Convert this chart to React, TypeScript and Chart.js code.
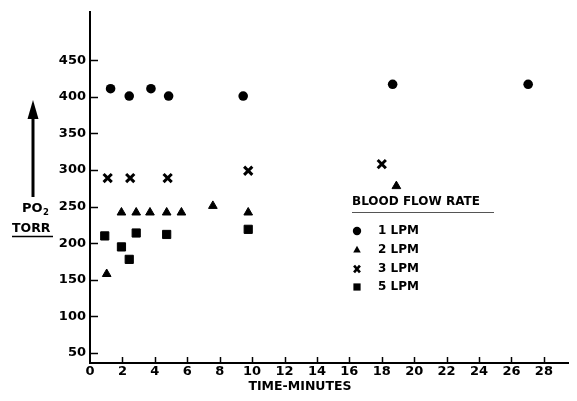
import React, { useEffect, useRef } from "react";
import { Chart, registerables } from "chart.js";

Chart.register(...registerables);

// Data (time in minutes, PO2 in torr)
const timeLpm1 = [1.27, 2.42, 3.76, 4.85, 9.45, 18.67, 27.03];
const po2Lpm1 = [411, 401, 411, 401, 401, 417, 417];
const timeLpm2 = [1.03, 1.94, 2.85, 3.7, 4.73, 5.64, 7.58, 9.76, 18.9];
const po2Lpm2 = [158, 242, 242, 242, 242, 242, 251, 242, 278];
const timeLpm3 = [1.09, 2.48, 4.79, 9.76, 18.0];
const po2Lpm3 = [289, 289, 289, 299, 308];
const timeLpm5 = [0.91, 1.94, 2.42, 2.85, 4.73, 9.76];
const po2Lpm5 = [210, 195, 178, 214, 212, 219];

const yTicks = [50, 100, 150, 200, 250, 300, 350, 400, 450];
const xTicks = [0, 2, 4, 6, 8, 10, 12, 14, 16, 18, 20, 22, 24, 26, 28];
const legendTitle = "BLOOD FLOW RATE";
const legendLabels = ["1 LPM", "2 LPM", "3 LPM", "5 LPM"];
const xTitle = "TIME-MINUTES";
const yTitleMain = "PO";
const yTitleSub = "2";
const yTitleUnit = "TORR";

const FONT = '"DejaVu Sans", sans-serif';

function pts(xs: number[], ys: number[]) {
  return xs.map((x, i) => ({ x, y: ys[i] }));
}

function drawMarker(ctx: CanvasRenderingContext2D, kind: number, cx: number, cy: number, s: number) {
  ctx.save();
  ctx.fillStyle = "#000";
  ctx.strokeStyle = "#000";
  if (kind === 0) {
    ctx.beginPath();
    ctx.arc(cx, cy, s, 0, Math.PI * 2);
    ctx.fill();
  } else if (kind === 1) {
    ctx.beginPath();
    ctx.moveTo(cx, cy - s);
    ctx.lineTo(cx + s * 0.9, cy + s * 0.6);
    ctx.lineTo(cx - s * 0.9, cy + s * 0.6);
    ctx.closePath();
    ctx.fill();
  } else if (kind === 2) {
    ctx.lineWidth = 2.6;
    ctx.beginPath();
    ctx.moveTo(cx - s * 0.7, cy - s * 0.8);
    ctx.lineTo(cx + s * 0.7, cy + s * 0.8);
    ctx.moveTo(cx + s * 0.7, cy - s * 0.8);
    ctx.lineTo(cx - s * 0.7, cy + s * 0.8);
    ctx.stroke();
  } else {
    ctx.fillRect(cx - s, cy - s, 2 * s, 2 * s);
  }
  ctx.restore();
}

const overlayPlugin = {
  id: "overlay",
  afterDraw(chart: any) {
    const ctx: CanvasRenderingContext2D = chart.ctx;
    const xs = chart.scales.x;
    const ys = chart.scales.y;
    ctx.save();
    ctx.strokeStyle = "#000";
    ctx.fillStyle = "#000";
    ctx.lineWidth = 1.5;
    // inward tick marks on y axis
    for (const v of yTicks) {
      const py = Math.round(ys.getPixelForValue(v)) + 0.5;
      ctx.beginPath();
      ctx.moveTo(xs.left, py);
      ctx.lineTo(xs.left + 8, py);
      ctx.stroke();
    }
    // upward tick marks on x axis
    for (const v of xTicks.slice(1)) {
      const px = Math.round(xs.getPixelForValue(v)) + 0.5;
      ctx.beginPath();
      ctx.moveTo(px, ys.bottom);
      ctx.lineTo(px, ys.bottom - 6);
      ctx.stroke();
    }

    // x title
    ctx.font = "bold 12.5px " + FONT;
    ctx.textAlign = "center";
    ctx.textBaseline = "middle";
    ctx.fillText(xTitle, 300, 387);

    // y title with arrow
    ctx.textAlign = "left";
    ctx.font = "bold 13px " + FONT;
    ctx.fillText(yTitleMain, 22, 209);
    const w = ctx.measureText(yTitleMain).width;
    ctx.font = "bold 8.5px " + FONT;
    ctx.fillText(yTitleSub, 22 + w + 0.5, 213);
    ctx.font = "bold 12.5px " + FONT;
    ctx.fillText(yTitleUnit, 12, 229);
    ctx.lineWidth = 1.5;
    ctx.beginPath();
    ctx.moveTo(12, 236.5);
    ctx.lineTo(53, 236.5);
    ctx.stroke();
    ctx.lineWidth = 3;
    ctx.beginPath();
    ctx.moveTo(33, 197);
    ctx.lineTo(33, 115);
    ctx.stroke();
    ctx.beginPath();
    ctx.moveTo(33, 100);
    ctx.lineTo(38.5, 119);
    ctx.lineTo(27.5, 119);
    ctx.closePath();
    ctx.fill();

    // legend
    ctx.font = "bold 12px " + FONT;
    ctx.textAlign = "left";
    ctx.fillText(legendTitle, 352, 202);
    ctx.lineWidth = 1;
    ctx.strokeStyle = "#555";
    ctx.beginPath();
    ctx.moveTo(352, 212.5);
    ctx.lineTo(494, 212.5);
    ctx.stroke();
    const rows = [231, 250, 269, 287];
    const sizes = [4.2, 4.2, 4.2, 3.6];
    legendLabels.forEach((label, i) => {
      drawMarker(ctx, i, 357, rows[i], sizes[i]);
      ctx.fillStyle = "#000";
      ctx.fillText(label, 378, rows[i]);
    });
    ctx.restore();
  },
};

export default function App() {
  const ref = useRef<HTMLCanvasElement>(null);
  useEffect(() => {
    if (!ref.current) return;
    const chart = new Chart(ref.current, {
      type: "scatter",
      data: {
        datasets: [
          {
            label: legendLabels[0],
            data: pts(timeLpm1, po2Lpm1),
            pointStyle: "circle",
            pointRadius: 4.8,
            backgroundColor: "#000",
            borderColor: "#000",
            borderWidth: 0,
          },
          {
            label: legendLabels[1],
            data: pts(timeLpm2, po2Lpm2),
            pointStyle: "triangle",
            pointRadius: 5,
            backgroundColor: "#000",
            borderColor: "#000",
            borderWidth: 1,
          },
          {
            label: legendLabels[2],
            data: pts(timeLpm3, po2Lpm3),
            pointStyle: "crossRot",
            pointRadius: 5.8,
            backgroundColor: "#000",
            borderColor: "#000",
            borderWidth: 3,
          },
          {
            label: legendLabels[3],
            data: pts(timeLpm5, po2Lpm5),
            pointStyle: "rect",
            pointRadius: 5.8,
            backgroundColor: "#000",
            borderColor: "#000",
            borderWidth: 1,
          },
        ],
      },
      options: {
        animation: false,
        responsive: false,
        devicePixelRatio: 1,
        events: [],
        layout: { padding: { top: 8, right: 0, left: 0, bottom: 0 } },
        plugins: {
          legend: { display: false },
          tooltip: { enabled: false },
        },
        scales: {
          x: {
            type: "linear",
            min: 0,
            max: 29.5,
            afterBuildTicks: (s: any) => {
              s.ticks = xTicks.map((v) => ({ value: v }));
            },
            afterFit: (s: any) => {
              s.height = 38;
            },
            grid: { display: false, drawTicks: false },
            border: { display: true, color: "#000", width: 2 },
            ticks: {
              color: "#000",
              padding: 1,
              maxRotation: 0,
              autoSkip: false,
              font: { family: FONT, size: 13, weight: "bold" },
              callback: (v: any) => String(v),
            },
          },
          y: {
            type: "linear",
            min: 36.5,
            max: 516,
            afterBuildTicks: (s: any) => {
              s.ticks = yTicks.map((v) => ({ value: v }));
            },
            afterFit: (s: any) => {
              s.width = 90;
            },
            grid: { display: false, drawTicks: false },
            border: { display: true, color: "#000", width: 2 },
            ticks: {
              color: "#000",
              padding: 4,
              autoSkip: false,
              font: { family: FONT, size: 13, weight: "bold" },
              callback: (v: any) => String(v),
            },
          },
        },
      },
      plugins: [overlayPlugin],
    });
    return () => chart.destroy();
  }, []);
  return (
    <div style={{ position: "fixed", left: 0, top: 0, width: 577, height: 401, background: "#fff" }}>
      <canvas ref={ref} width={577} height={401} style={{ display: "block", width: 577, height: 401 }} />
    </div>
  );
}
